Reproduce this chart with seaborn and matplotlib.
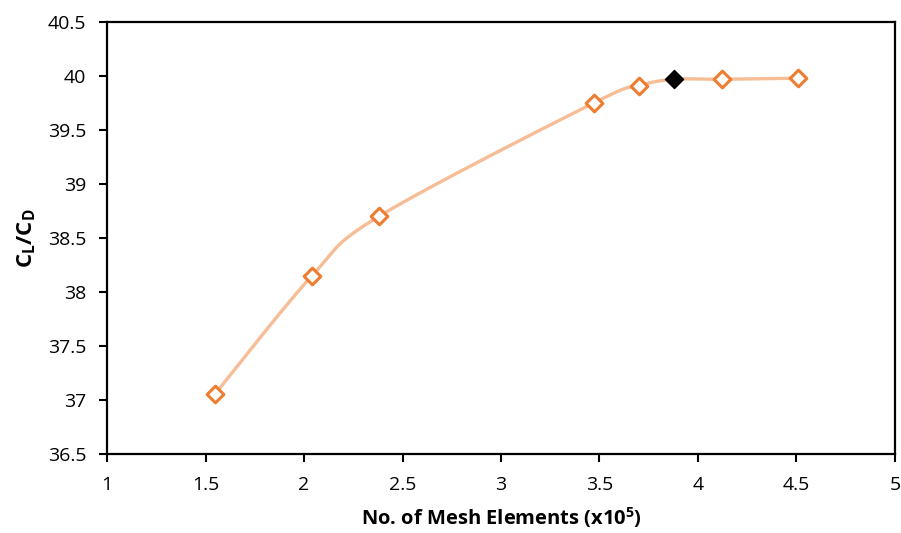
import numpy as np
import pandas as pd
import matplotlib
matplotlib.use("Agg")
import matplotlib.pyplot as plt
import seaborn as sns

# mesh elements (x10^5) and lift/drag ratio
mesh = [1.55, 2.04, 2.38, 3.47, 3.70, 3.88, 4.12, 4.51]
cl_cd = [37.06, 38.15, 38.70, 39.75, 39.91, 39.97, 39.97, 39.98]
selected = [False, False, False, False, False, True, False, False]

xticks = [1, 1.5, 2, 2.5, 3, 3.5, 4, 4.5, 5]
yticks = [36.5, 37, 37.5, 38, 38.5, 39, 39.5, 40, 40.5]


def excel_smooth(x, y, n=40):
    # Excel-like smoothed line: cubic bezier with catmull-rom control points
    pts = np.column_stack([x, y]).astype(float)
    out = []
    for i in range(len(pts) - 1):
        p0 = pts[max(i - 1, 0)]
        p1 = pts[i]
        p2 = pts[i + 1]
        p3 = pts[min(i + 2, len(pts) - 1)]
        c1 = p1 + (p2 - p0) / 6
        c2 = p2 - (p3 - p1) / 6
        t = np.linspace(0, 1, n)[:, None]
        seg = ((1 - t) ** 3) * p1 + 3 * ((1 - t) ** 2) * t * c1 + 3 * (1 - t) * t ** 2 * c2 + t ** 3 * p2
        out.append(seg if i == 0 else seg[1:])
    out = np.vstack(out)
    return out[:, 0], out[:, 1]


sns.set_theme(style="white")
plt.rcParams["font.family"] = ["Open Sans", "DejaVu Sans"]
plt.rcParams["mathtext.fontset"] = "custom"
plt.rcParams["mathtext.rm"] = "Open Sans"
plt.rcParams["mathtext.bf"] = "Open Sans:bold"
plt.rcParams["text.color"] = "black"
plt.rcParams["axes.labelcolor"] = "black"
plt.rcParams["xtick.color"] = "black"
plt.rcParams["ytick.color"] = "black"

df = pd.DataFrame({"mesh": mesh, "ratio": cl_cd, "sel": selected})
sx, sy = excel_smooth(df["mesh"], df["ratio"])
curve = pd.DataFrame({"x": sx, "y": sy})

fig = plt.figure(figsize=(9.01, 5.33), dpi=100)
ax = fig.add_axes([0.1188, 0.1482, 0.8745, 0.8105])

sns.lineplot(data=curve, x="x", y="y", sort=False, color="#F6BD96", lw=2.4, ax=ax, zorder=2)
sns.scatterplot(data=df[~df["sel"]], x="mesh", y="ratio", marker="D", s=72,
                facecolor="white", edgecolor="#ED7D31", linewidth=2.2, ax=ax, zorder=3)
sns.scatterplot(data=df[df["sel"]], x="mesh", y="ratio", marker="D", s=85,
                color="black", edgecolor="black", linewidth=1, ax=ax, zorder=4)

ax.set_xlim(1, 5)
ax.set_ylim(36.5, 40.5)
ax.set_xticks(xticks)
ax.set_xticklabels([f"{v:g}" for v in xticks])
ax.set_yticks(yticks)
ax.set_yticklabels([f"{v:g}" for v in yticks])
ax.tick_params(axis="both", direction="out", length=6, width=1.5, color="black",
               labelcolor="black", labelsize=14, bottom=True, left=True)
ax.tick_params(axis="x", pad=10)
ax.tick_params(axis="y", pad=9)
for s in ax.spines.values():
    s.set_color("black")
    s.set_linewidth(1.6)

ax.set_xlabel(r"No. of Mesh Elements (x10$^{\mathbf{5}}$)", fontsize=14.5, fontweight="bold", labelpad=8)
ax.set_ylabel(r"$\mathbf{C_L/C_D}$", fontsize=16, fontweight="bold", labelpad=7)
ax.grid(False)

fig.savefig("out.png", dpi=100)
